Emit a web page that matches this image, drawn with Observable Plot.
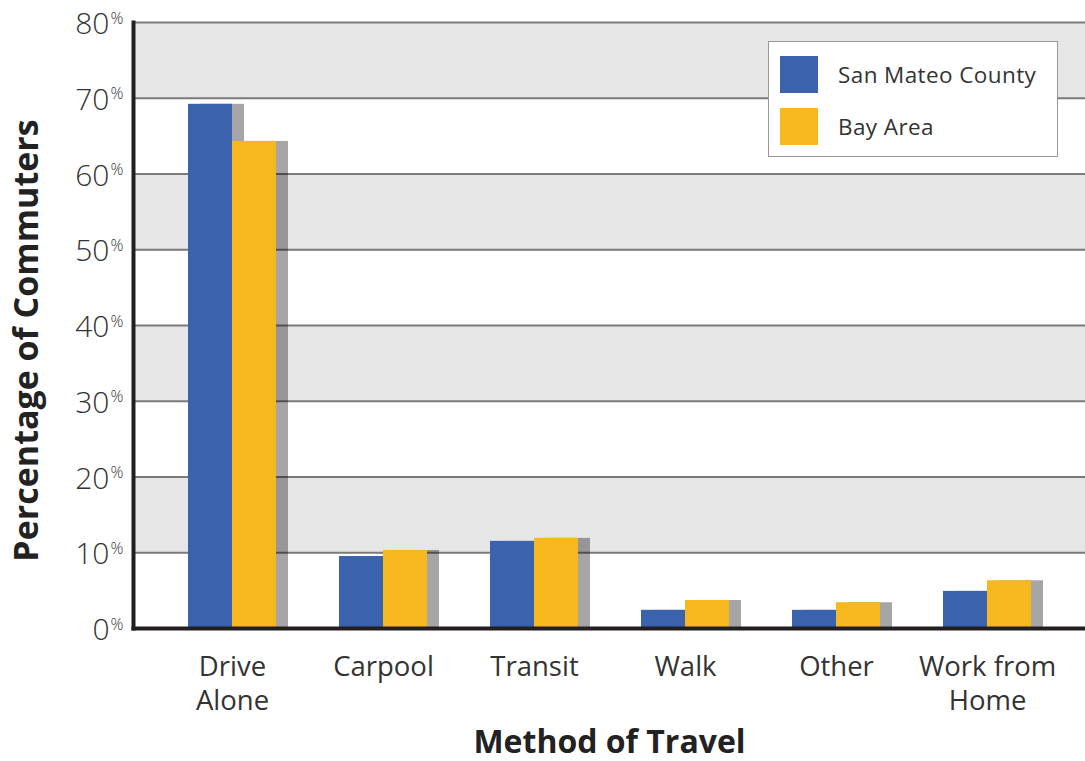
<!DOCTYPE html>
<html>
<head>
<meta charset="utf-8">
<script src="https://cdn.jsdelivr.net/npm/d3@7"></script>
<script src="https://cdn.jsdelivr.net/npm/@observablehq/plot@0.6"></script>
<style>
  html, body { margin: 0; padding: 0; background: #fff; }
  #wrap { position: relative; width: 1085px; height: 761px; font-family: "Open Sans", sans-serif; }
  #legend { position: absolute; left: 768px; top: 41px; width: 288px; height: 114px; background: #fff; border: 1px solid #999; box-sizing: content-box; }
  .li { position: absolute; left: 11px; display: flex; align-items: center; }
  .sw { width: 38px; height: 37px; }
  .lt { margin-left: 20px; font-size: 22.5px; color: #333; letter-spacing: 0.4px; }
</style>
</head>
<body>
<div id="wrap"></div>
<script>
const categories = ["Drive Alone", "Carpool", "Transit", "Walk", "Other", "Work from Home"];
const tickLabels = ["Drive\nAlone", "Carpool", "Transit", "Walk", "Other", "Work from\nHome"];
const sanMateo = [69.2, 9.5, 11.5, 2.4, 2.4, 4.9];
const bayArea = [64.3, 10.3, 11.9, 3.7, 3.4, 6.3];
const seriesNames = ["San Mateo County", "Bay Area"];
const seriesColors = ["#3b62ad", "#f7b71e"];
const yTicks = [0, 10, 20, 30, 40, 50, 60, 70, 80];
const grayBands = [[10, 20], [30, 40], [50, 60], [70, 80]];

const rows = categories.map((c, i) => ({cat: c, label: tickLabels[i], sm: sanMateo[i], ba: bayArea[i]}));
const bands = grayBands.map(([a, b]) => ({y1: a, y2: b}));
const half = 44;

const chart = Plot.plot({
  width: 1085,
  height: 761,
  marginLeft: 133,
  marginRight: 0,
  marginTop: 22,
  marginBottom: 133,
  style: {fontFamily: "Open Sans, sans-serif", background: "transparent"},
  x: {type: "band", domain: categories, paddingInner: 0.4188, paddingOuter: 0.353, axis: null},
  y: {domain: [0, 80], axis: null},
  marks: [
    Plot.rect(bands, {y1: "y1", y2: "y2", fill: "#e6e6e6"}),
    Plot.ruleY(yTicks.filter(d => d > 0), {stroke: "#7a7a7a", strokeWidth: 2}),
    Plot.barY(rows, {x: "cat", y: "sm", fill: "#000", fillOpacity: 0.35, insetRight: half, dx: 12}),
    Plot.barY(rows, {x: "cat", y: "ba", fill: "#000", fillOpacity: 0.35, insetLeft: half, dx: 12}),
    Plot.barY(rows, {x: "cat", y: "sm", fill: seriesColors[0], insetRight: half}),
    Plot.barY(rows, {x: "cat", y: "ba", fill: seriesColors[1], insetLeft: half}),
    Plot.frame({anchor: "left", stroke: "#231f20", strokeWidth: 4}),
    Plot.frame({anchor: "bottom", stroke: "#231f20", strokeWidth: 4}),
    Plot.text(yTicks, {y: d => d, text: d => String(d), frameAnchor: "left", textAnchor: "end", lineAnchor: "middle", dx: -24, dy: 2, fontSize: 30, fontWeight: 300, fill: "#333"}),
    Plot.text(yTicks, {y: d => d, text: () => "%", frameAnchor: "left", textAnchor: "start", lineAnchor: "middle", dx: -23, dy: -4, fontSize: 16, fontWeight: 300, fill: "#333"}),
    Plot.text(rows, {x: "cat", text: "label", frameAnchor: "bottom", lineAnchor: "top", dy: 23, fontSize: 27.5, lineHeight: 1.25, fill: "#333"}),
    Plot.text(["Method of Travel"], {text: d => d, frameAnchor: "bottom", lineAnchor: "bottom", dy: 124, fontSize: 32, fontWeight: "bold", fill: "#222"}),
    Plot.text(["Percentage of Commuters"], {text: d => d, frameAnchor: "left", rotate: -90, lineAnchor: "bottom", textAnchor: "middle", dx: -96, dy: 15, fontSize: 34, fontWeight: "bold", fill: "#222"})
  ]
});

const wrap = document.getElementById("wrap");
wrap.appendChild(chart);

const legend = document.createElement("div");
legend.id = "legend";
seriesNames.forEach((name, i) => {
  const item = document.createElement("div");
  item.className = "li";
  item.style.top = (14 + i * 52) + "px";
  const sw = document.createElement("div");
  sw.className = "sw";
  sw.style.background = seriesColors[i];
  const t = document.createElement("span");
  t.className = "lt";
  t.textContent = name;
  item.appendChild(sw);
  item.appendChild(t);
  legend.appendChild(item);
});
wrap.appendChild(legend);
</script>
</body>
</html>
